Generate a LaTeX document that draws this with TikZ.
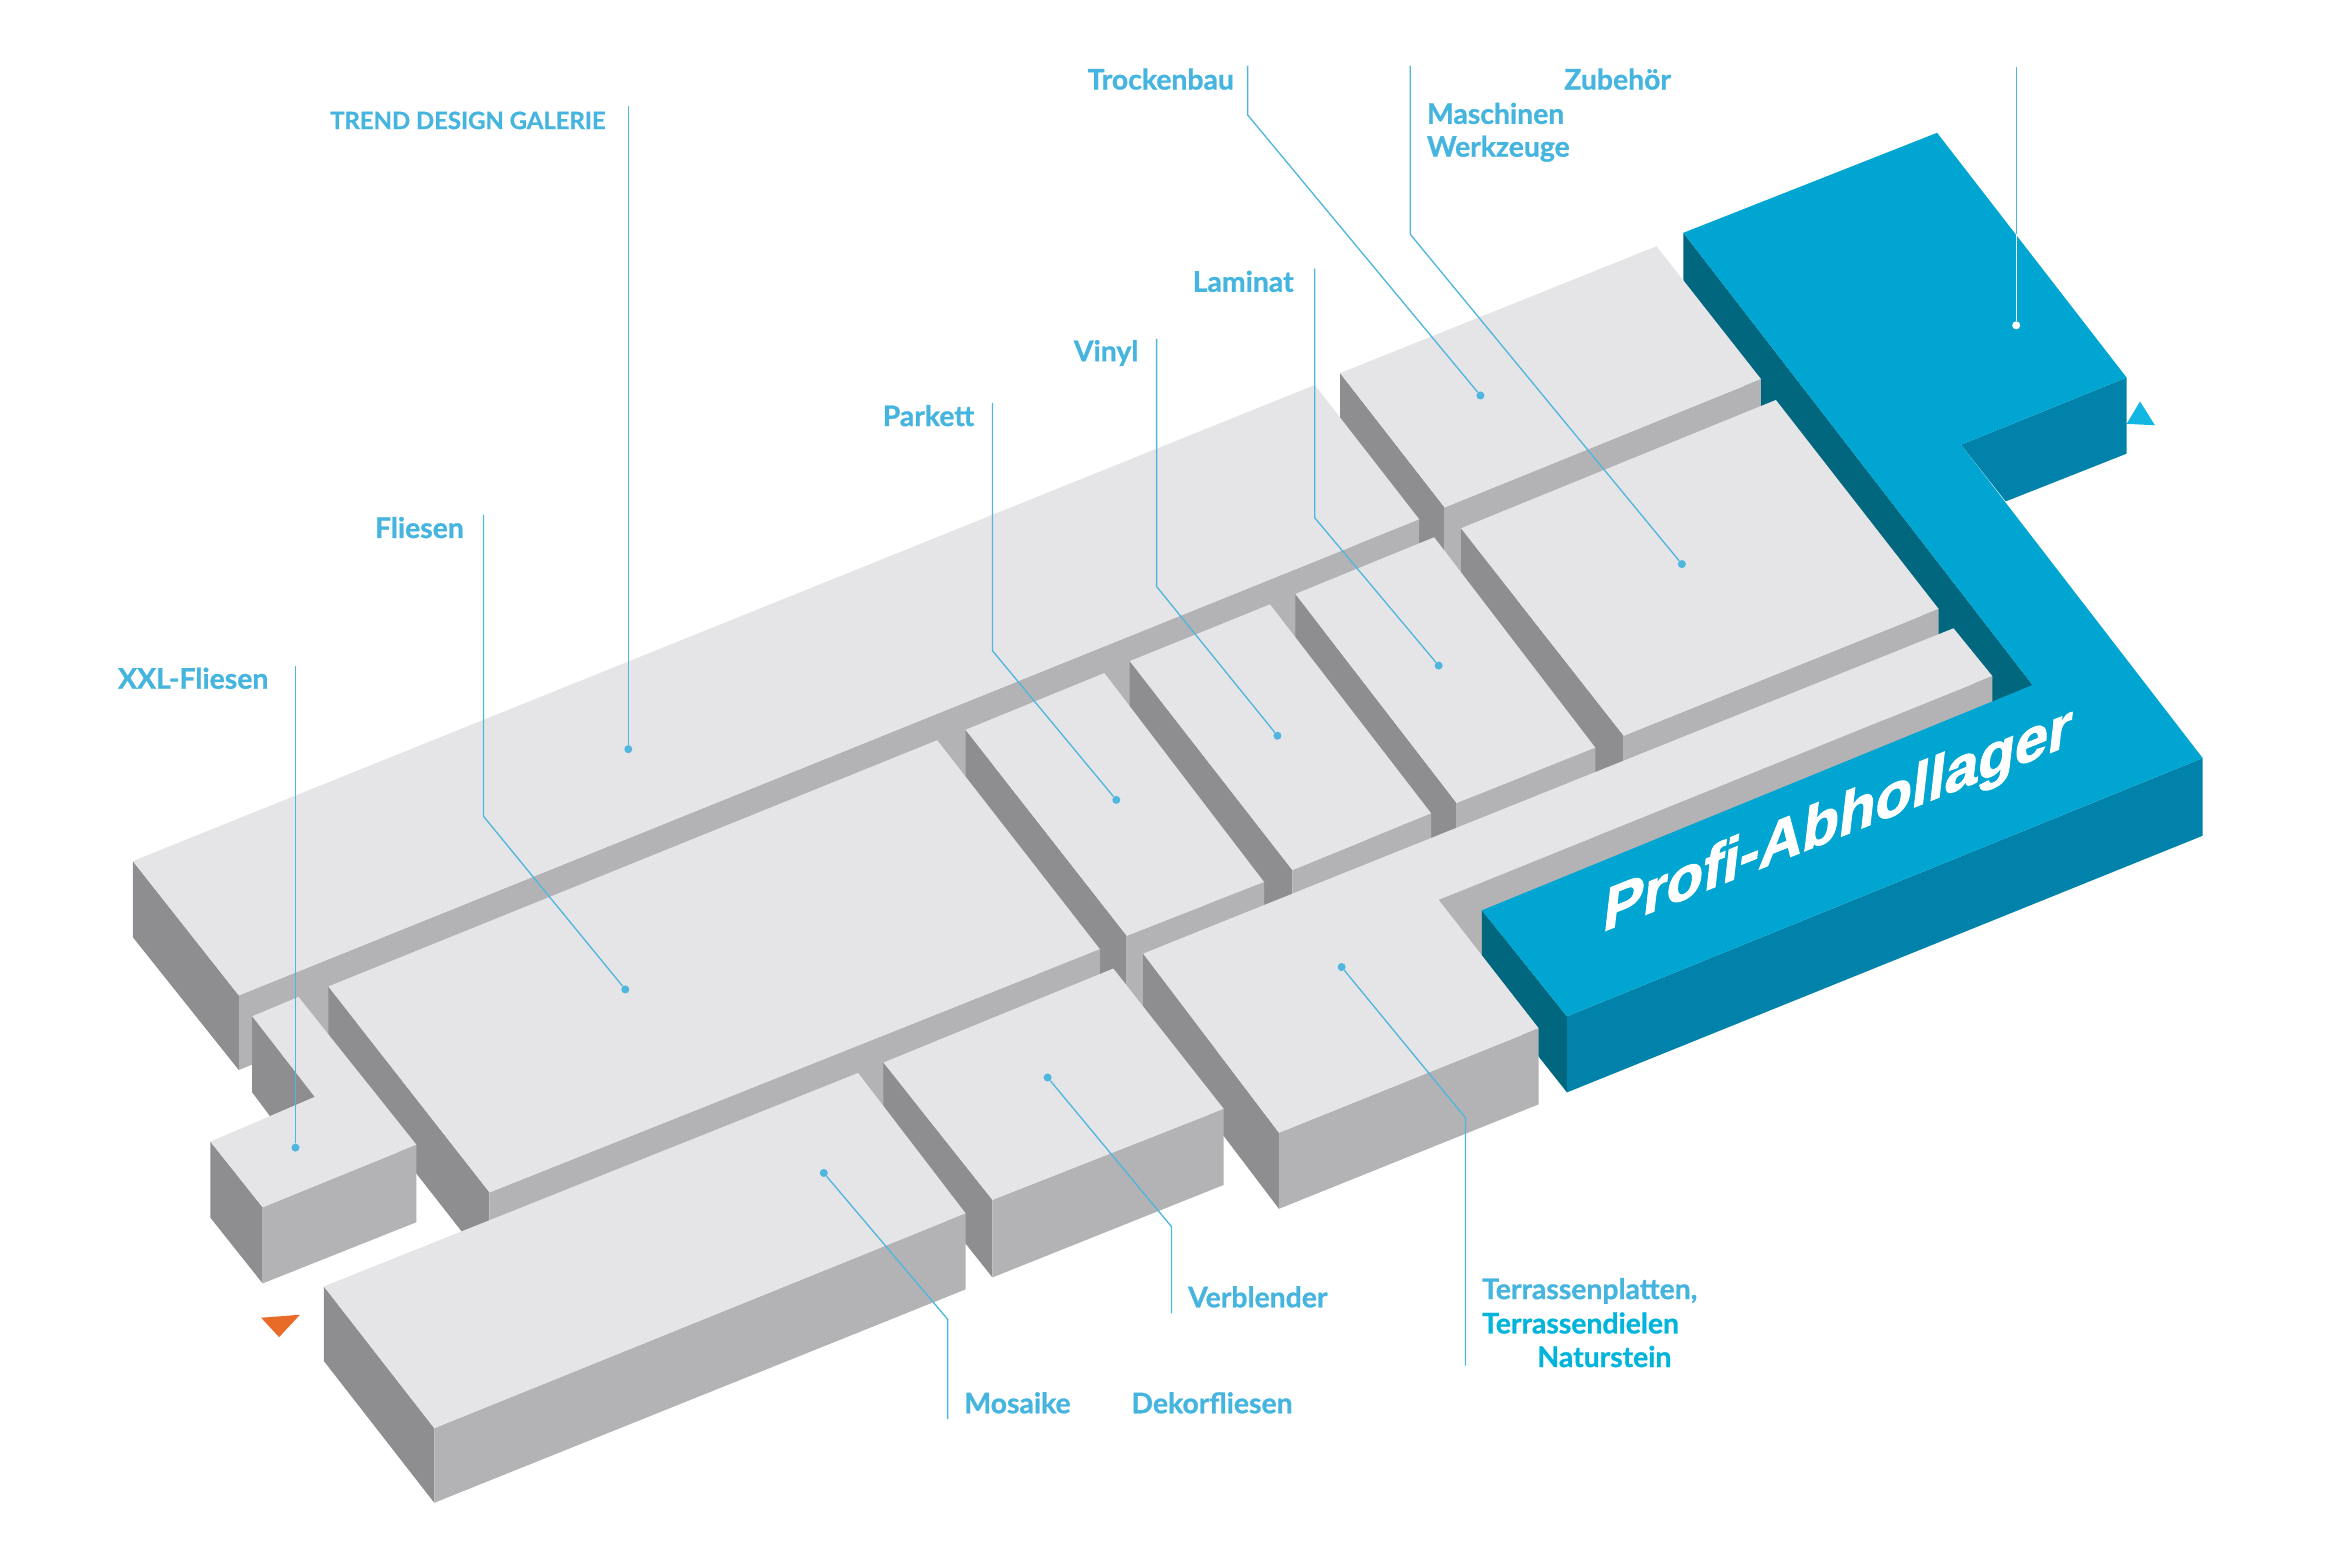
\documentclass[tikz,border=0pt]{standalone}
\usepackage{xcolor}
\usepackage{fontspec}
\usepackage{tikz}
\setmainfont{Lato}[BoldFeatures={FakeBold=0.9}]
\newfontfamily\signfont{Liberation Sans}[BoldFeatures={FakeBold=1.8}]
\definecolor{tiletop}{HTML}{E5E5E7}
\definecolor{tilefront}{HTML}{B3B2B4}
\definecolor{tileside}{HTML}{8E8D8F}
\definecolor{depottop}{HTML}{00A6D1}
\definecolor{depotfront}{HTML}{0082AA}
\definecolor{depotside}{HTML}{00677F}
\definecolor{leadercolor}{HTML}{4FB7DD}
\definecolor{textblue}{HTML}{45B5DF}
\definecolor{textcyan}{HTML}{00B4DC}
\definecolor{markerorange}{HTML}{E96B28}
\definecolor{markercyan}{HTML}{12B6E2}

\begin{document}
\begin{tikzpicture}[
    x=1pt, y=-1pt,
    toptile/.style={fill=tiletop},
    fronttile/.style={fill=tilefront},
    sidetile/.style={fill=tileside},
    leader/.style={draw=leadercolor, line width=0.9pt},
    dot/.style={circle, fill=leadercolor, inner sep=0pt, minimum size=5.4pt},
    lab/.style={inner sep=0pt, text=textblue, font=\fontsize{19}{22}\selectfont\bfseries}
]
\useasboundingbox (0,0) rectangle (1568,1045.33);

\fill[markercyan] (1434,269) -- (1425,284) -- (1444,285) -- cycle;
\fill[markerorange] (175,883) -- (201,881) -- (187,896) -- cycle;

\fill[depotside] (1128,156) -- (1362,459) -- (1362,509) -- (1128,206) -- cycle;

\fill[sidetile] (898,250) -- (968,340) -- (968,440) -- (898,350) -- cycle;
\fill[fronttile] (968,340) -- (1180,254) -- (1180,272) -- (968,440) -- cycle;
\fill[toptile] (898,250) -- (1110,165) -- (1180,254) -- (968,340) -- cycle;

\fill[fronttile] (160,667) -- (951,348) -- (951,398) -- (160,717) -- cycle;
\fill[sidetile] (89,577) -- (160,667) -- (160,717) -- (89,628) -- cycle;
\fill[toptile] (89,577) -- (881,258) -- (951,348) -- (160,667) -- cycle;

\fill[sidetile] (979,354) -- (1088,493) -- (1088,600) -- (979,460) -- cycle;
\fill[fronttile] (1088,493) -- (1299,408) -- (1299,458) -- (1088,600) -- cycle;
\fill[toptile] (979,354) -- (1190,268) -- (1299,408) -- (1088,493) -- cycle;

\fill[sidetile] (868,398) -- (976,538) -- (976,640) -- (868,500) -- cycle;
\fill[fronttile] (976,538) -- (1069,501) -- (1069,600) -- (976,640) -- cycle;
\fill[toptile] (868,398) -- (961,360) -- (1069,501) -- (976,538) -- cycle;

\fill[sidetile] (757,443) -- (866,583) -- (866,680) -- (757,540) -- cycle;
\fill[fronttile] (866,583) -- (959,545) -- (959,640) -- (866,680) -- cycle;
\fill[toptile] (757,443) -- (851,405) -- (959,545) -- (866,583) -- cycle;

\fill[sidetile] (647,489) -- (755,627) -- (755,730) -- (647,590) -- cycle;
\fill[fronttile] (755,627) -- (847,591) -- (847,690) -- (755,730) -- cycle;
\fill[toptile] (647,489) -- (740,451) -- (847,591) -- (755,627) -- cycle;

\fill[sidetile] (220,661) -- (328,799) -- (328,849) -- (220,711) -- cycle;
\fill[fronttile] (328,799) -- (737,636) -- (737,686) -- (328,849) -- cycle;
\fill[toptile] (220,661) -- (628,496) -- (737,636) -- (328,799) -- cycle;

\fill[fronttile] (964,603) -- (1335,453) -- (1335,503) -- (964,653) -- cycle;

\fill[depotfront] (1314,298) -- (1425,253) -- (1425,304) -- (1344,336) -- cycle;
\fill[depotside] (993,610) -- (1050,681) -- (1050,732) -- (993,660) -- cycle;
\fill[depotfront] (1050,681) -- (1476,508) -- (1476,560) -- (1050,732) -- cycle;
\fill[depottop] (1128,156) -- (1298,89) -- (1425,253) -- (1314,298) -- (1476,508)
    -- (1050,681) -- (993,610) -- (1362,459) -- cycle;

\fill[sidetile] (766,639) -- (857,759) -- (857,810) -- (766,690) -- cycle;
\fill[fronttile] (857,759) -- (1031,689) -- (1031,740) -- (857,810) -- cycle;
\fill[toptile] (766,639) -- (1309,421) -- (1335,453) -- (964,603) -- (1031,689) -- (857,759) -- cycle;

\fill[sidetile] (592,712) -- (665,804) -- (665,856) -- (592,764) -- cycle;
\fill[fronttile] (665,804) -- (820,743) -- (820,794) -- (665,856) -- cycle;
\fill[toptile] (592,712) -- (746,649) -- (820,743) -- (665,804) -- cycle;

\fill[sidetile] (169,681) -- (211,735) -- (181,748) -- (169,732) -- cycle;
\fill[sidetile] (141,765) -- (176,809) -- (176,860) -- (141,816) -- cycle;
\fill[fronttile] (176,809) -- (279,767) -- (279,819) -- (176,860) -- cycle;
\fill[toptile] (169,681) -- (200,668) -- (279,767) -- (176,809) -- (141,765) -- (211,735) -- cycle;

\fill[sidetile] (217,862) -- (291,957) -- (291,1007) -- (217,912) -- cycle;
\fill[fronttile] (291,957) -- (647,813) -- (647,864) -- (291,1007) -- cycle;
\fill[toptile] (217,862) -- (575,719) -- (647,813) -- (291,957) -- cycle;

\node[inner sep=0pt, text=white, anchor=base, yslant=0.4, xslant=0.12,
    font=\signfont\fontsize{40}{44}\selectfont\bfseries] (schild) at (1230,562) {Profi-Abhollager};

\node[dot] (galerieDot) at (421,502) {};
\node[dot] (fliesenDot) at (419,663) {};
\node[dot] (xxlDot) at (198,769) {};
\node[dot] (parkettDot) at (748,536) {};
\node[dot] (vinylDot) at (856,493) {};
\node[dot] (laminatDot) at (964,446) {};
\node[dot] (trockenDot) at (992,265) {};
\node[dot] (maschinenDot) at (1127,378) {};
\node[dot] (verblenderDot) at (702,722) {};
\node[dot] (mosaikeDot) at (552,786) {};
\node[dot] (terrasseDot) at (899,648) {};
\node[dot, fill=white] (depotDot) at (1351,218) {};

\coordinate (galerieEnd) at (421,71);
\coordinate (fliesenBend) at (324,547);
\coordinate (fliesenEnd) at (324,345);
\coordinate (xxlEnd) at (198,446);
\coordinate (parkettBend) at (665,436);
\coordinate (parkettEnd) at (665,270);
\coordinate (vinylBend) at (775,393);
\coordinate (vinylEnd) at (775,227);
\coordinate (laminatBend) at (881,347);
\coordinate (laminatEnd) at (881,180);
\coordinate (trockenBend) at (836,77);
\coordinate (trockenEnd) at (836,44);
\coordinate (maschinenBend) at (945,157);
\coordinate (maschinenEnd) at (945,44);
\coordinate (verblenderBend) at (785,822);
\coordinate (verblenderEnd) at (785,880);
\coordinate (mosaikeBend) at (635,884);
\coordinate (mosaikeEnd) at (635,951);
\coordinate (terrasseBend) at (982,749);
\coordinate (terrasseEnd) at (982,915);
\coordinate (depotEdge) at (1351,157);
\coordinate (depotEnd) at (1351,45);

\draw[leader] (galerieDot) -- (galerieEnd);
\draw[leader] (fliesenDot) -- (fliesenBend) -- (fliesenEnd);
\draw[leader] (xxlDot) -- (xxlEnd);
\draw[leader] (parkettDot) -- (parkettBend) -- (parkettEnd);
\draw[leader] (vinylDot) -- (vinylBend) -- (vinylEnd);
\draw[leader] (laminatDot) -- (laminatBend) -- (laminatEnd);
\draw[leader] (trockenDot) -- (trockenBend) -- (trockenEnd);
\draw[leader] (maschinenDot) -- (maschinenBend) -- (maschinenEnd);
\draw[leader] (verblenderDot) -- (verblenderBend) -- (verblenderEnd);
\draw[leader] (mosaikeDot) -- (mosaikeBend) -- (mosaikeEnd);
\draw[leader] (terrasseDot) -- (terrasseBend) -- (terrasseEnd);
\draw[leader] (depotEdge) -- (depotEnd);
\draw[leader, draw=white] (depotDot) -- (depotEdge);

\node[lab, anchor=base east, font=\fontsize{16}{18}\selectfont\bfseries] (galerie) at (406,86.5) {TREND DESIGN GALERIE};
\node[lab, anchor=base east] (fliesen) at (311,360.5) {Fliesen};
\node[lab, anchor=base east] (xxl) at (180,461.5) {XXL-Fliesen};
\node[lab, anchor=base east] (parkett) at (653,285.5) {Parkett};
\node[lab, anchor=base east] (vinyl) at (763,242) {Vinyl};
\node[lab, anchor=base east] (laminat) at (867,195.5) {Laminat};
\node[lab, anchor=base east] (trocken) at (827,60) {Trockenbau};
\node[lab, anchor=base west] (zubehoer) at (1048,60) {Zubehör};
\node[lab, anchor=base west] (maschinen) at (956,83) {Maschinen};
\node[lab, anchor=base west] (werkzeuge) at (956,105) {Werkzeuge};
\node[lab, anchor=base west] (verblender) at (796,876) {Verblender};
\node[lab, anchor=base west] (mosaike) at (646,947) {Mosaike};
\node[lab, anchor=base west] (dekor) at (758,947) {Dekorfliesen};
\node[lab, anchor=base west] (platten) at (993,870.5) {Terrassenplatten,};
\node[lab, anchor=base west, text=textcyan] (dielen) at (993,893.5) {Terrassendielen};
\node[lab, anchor=base west, text=textcyan] (naturstein) at (1030,916) {Naturstein};

\end{tikzpicture}
\end{document}
